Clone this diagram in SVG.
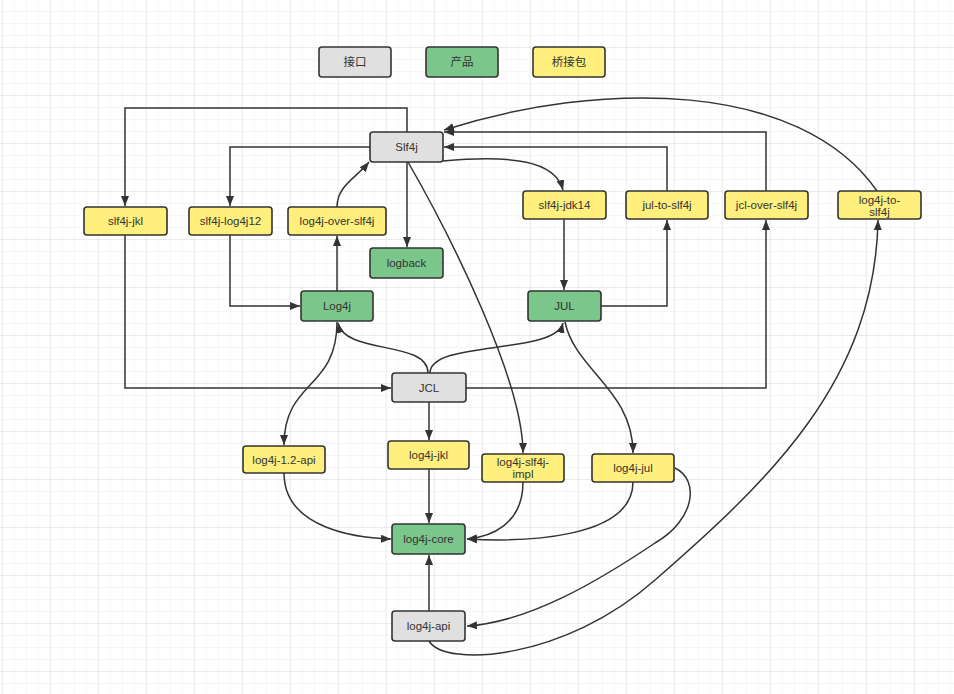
<svg xmlns="http://www.w3.org/2000/svg" width="954" height="694" viewBox="0 0 954 694">
<defs>
<pattern id="minor" width="12" height="12" patternUnits="userSpaceOnUse" x="2.7" y="0">
<path d="M12 0 V12 M0 12 H12" fill="none" stroke="#ececec" stroke-width="1"/>
</pattern>
<pattern id="major" width="48" height="48" patternUnits="userSpaceOnUse" x="2.7" y="0">
<path d="M48 0 V48 M0 48 H48" fill="none" stroke="#dedede" stroke-width="1"/>
</pattern>
<marker id="arr" markerUnits="userSpaceOnUse" markerWidth="11" markerHeight="9" refX="10" refY="4" orient="auto">
<path d="M0,0 L10,4 L0,8 z" fill="#333"/>
</marker>
<style>
.n rect{stroke:#333;stroke-width:1.6}
.g rect{fill:#e0e0e0}
.p rect{fill:#7ac68b}
.y rect{fill:#ffef7c}
text{font-family:"Liberation Sans","Noto Sans CJK SC",sans-serif;font-size:11.5px;fill:#333;text-anchor:middle}
#connectors path{fill:none;stroke:#333;stroke-width:1.5;marker-end:url(#arr)}
</style>
</defs>
<rect width="954" height="694" fill="#fff"/>
<rect width="954" height="694" fill="url(#minor)"/>
<rect width="954" height="694" fill="url(#major)"/>

<g id="connectors">
<path d="M407,132 V108 H125 V206"/>
<path d="M370,147 H230 V206"/>
<path d="M337,207 C337,186 356,178 369,162"/>
<path d="M407,162 V247"/>
<path d="M408,162 C450,235 523,380 523,453"/>
<path d="M443,161 C510,155 555,160 563,190"/>
<path d="M667,191 V147 H444"/>
<path d="M766,191 V132 H444"/>
<path d="M877,191 C800,80 600,80 444,130"/>
<path d="M125,235 V388 H391"/>
<path d="M230,235 V306 H300"/>
<path d="M337,291 V236"/>
<path d="M428,373 C428,340 345,355 338,323"/>
<path d="M430,373 C430,340 555,355 563,323"/>
<path d="M601,306 H667 V220"/>
<path d="M564,219 V290"/>
<path d="M466,388 H766 V220"/>
<path d="M337,322 C337,390 284,380 284,445"/>
<path d="M429,402 V440"/>
<path d="M565,322 C575,370 633,390 633,453"/>
<path d="M284,473 C284,530 360,538 391,539"/>
<path d="M429,469 V523"/>
<path d="M523,482 C523,525 490,537 467,539"/>
<path d="M633,482 C633,540 520,542 467,539"/>
<path d="M429,611 V555"/>
<path d="M675,468 C700,480 695,520 655,543 C600,580 530,622 467,626"/>
<path d="M429,641 C445,668 565,660 655,580 C770,480 875,380 878,220"/>
</g>

<g id="legend-interface" class="n g"><rect x="319" y="47" width="72" height="30" rx="3"/><text x="355" y="66">接口</text></g>
<g id="legend-product" class="n p"><rect x="426" y="47" width="72" height="30" rx="3"/><text x="462" y="66">产品</text></g>
<g id="legend-bridge" class="n y"><rect x="533" y="47" width="72" height="30" rx="3"/><text x="569" y="66">桥接包</text></g>

<g id="slf4j" class="n g"><rect x="370" y="132" width="73" height="30" rx="3"/><text x="406.5" y="151">Slf4j</text></g>
<g id="slf4j-jkl" class="n y"><rect x="84" y="207" width="83" height="28" rx="3"/><text x="125.5" y="225">slf4j-jkl</text></g>
<g id="slf4j-log4j12" class="n y"><rect x="189" y="207" width="83" height="28" rx="3"/><text x="230.5" y="225">slf4j-log4j12</text></g>
<g id="log4j-over-slf4j" class="n y"><rect x="288" y="207" width="98" height="28" rx="3"/><text x="337" y="225">log4j-over-slf4j</text></g>
<g id="slf4j-jdk14" class="n y"><rect x="523" y="191" width="83" height="28" rx="3"/><text x="564.5" y="209">slf4j-jdk14</text></g>
<g id="jul-to-slf4j" class="n y"><rect x="626" y="191" width="82" height="28" rx="3"/><text x="667" y="209">jul-to-slf4j</text></g>
<g id="jcl-over-slf4j" class="n y"><rect x="725" y="191" width="83" height="28" rx="3"/><text x="766.5" y="209">jcl-over-slf4j</text></g>
<g id="log4j-to-slf4j" class="n y"><rect x="838" y="191" width="83" height="28" rx="3"/><text x="879.5" y="204">log4j-to-</text><text x="879.5" y="216">slf4j</text></g>
<g id="logback" class="n p"><rect x="370" y="248" width="73" height="30" rx="3"/><text x="406.5" y="267">logback</text></g>
<g id="log4j" class="n p"><rect x="301" y="291" width="72" height="30" rx="3"/><text x="337" y="310">Log4j</text></g>
<g id="jul" class="n p"><rect x="528" y="291" width="73" height="30" rx="3"/><text x="564.5" y="310">JUL</text></g>
<g id="jcl" class="n g"><rect x="392" y="373" width="74" height="29" rx="3"/><text x="429" y="392">JCL</text></g>
<g id="log4j-1.2-api" class="n y"><rect x="243" y="446" width="82" height="27" rx="3"/><text x="284" y="464">log4j-1.2-api</text></g>
<g id="log4j-jkl" class="n y"><rect x="388" y="441" width="81" height="28" rx="3"/><text x="428.5" y="459">log4j-jkl</text></g>
<g id="log4j-slf4j-impl" class="n y"><rect x="482" y="454" width="82" height="28" rx="3"/><text x="523" y="466">log4j-slf4j-</text><text x="523" y="478">impl</text></g>
<g id="log4j-jul" class="n y"><rect x="592" y="454" width="82" height="28" rx="3"/><text x="633" y="472">log4j-jul</text></g>
<g id="log4j-core" class="n p"><rect x="392" y="524" width="73" height="30" rx="3"/><text x="428.5" y="543">log4j-core</text></g>
<g id="log4j-api" class="n g"><rect x="392" y="611" width="73" height="30" rx="3"/><text x="428.5" y="630">log4j-api</text></g>
</svg>
